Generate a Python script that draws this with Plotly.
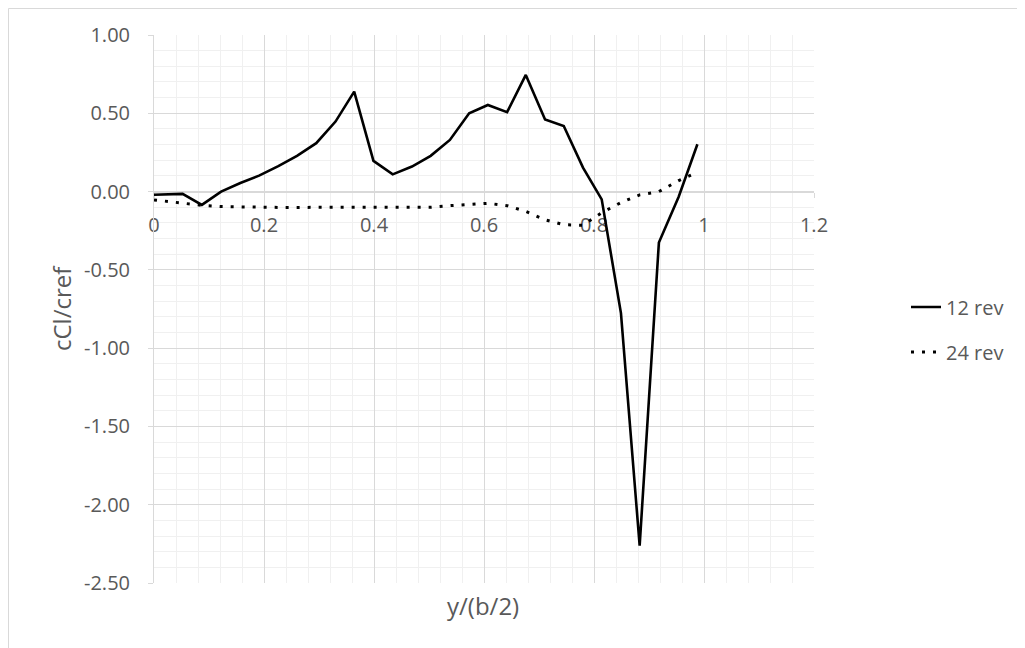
import plotly.graph_objects as go

# ---- data ----
x_12 = [0.000, 0.052, 0.087, 0.122, 0.157, 0.191, 0.226, 0.260, 0.295, 0.330,
        0.364, 0.399, 0.434, 0.469, 0.503, 0.538, 0.573, 0.607, 0.642, 0.676,
        0.711, 0.745, 0.780, 0.814, 0.849, 0.883, 0.918, 0.954, 0.988]
y_12 = [-0.020, -0.015, -0.085, 0.000, 0.055, 0.102, 0.162, 0.228, 0.309, 0.447,
        0.638, 0.196, 0.110, 0.160, 0.228, 0.330, 0.500, 0.553, 0.507, 0.745,
        0.460, 0.419, 0.153, -0.050, -0.776, -2.261, -0.325, -0.033, 0.302]

x_24 = [0.000, 0.052, 0.087, 0.122, 0.157, 0.191, 0.226, 0.260, 0.295, 0.330,
        0.364, 0.399, 0.434, 0.469, 0.503, 0.538, 0.573, 0.607, 0.642, 0.676,
        0.711, 0.745, 0.780, 0.814, 0.849, 0.883, 0.918, 0.954, 0.978]
y_24 = [-0.053, -0.074, -0.088, -0.096, -0.099, -0.100, -0.101, -0.101, -0.101, -0.101,
        -0.101, -0.101, -0.101, -0.100, -0.100, -0.090, -0.082, -0.075, -0.090, -0.127,
        -0.180, -0.212, -0.215, -0.135, -0.070, -0.021, 0.000, 0.070, 0.108]

series_names = ["12 rev", "24 rev"]
x_ticks = [0, 0.2, 0.4, 0.6, 0.8, 1.0, 1.2]
y_ticks = [1.0, 0.5, 0.0, -0.5, -1.0, -1.5, -2.0, -2.5]
x_title = "y/(b/2)"
y_title = "cCl/cref"

FONT = "Open Sans"
TXT = "#595959"
MAJOR = "#d9d9d9"
MINOR = "#f0f0f0"
TICK_SIZE = 20
TITLE_SIZE = 24

# page body has an 8px margin, so the figure starts at (8, 8) in the screenshot
OFF = 8
W, H = 1025 - OFF, 648 - OFF
L, R, T, B = 146, 211, 27, 65
PW, PH = W - L - R, H - T - B

def px_x(p):
    """screenshot x pixel -> paper fraction"""
    return (p - OFF - L) / PW

def px_y(p):
    """screenshot y pixel -> paper fraction"""
    return (H - B - (p - OFF)) / PH

fig = go.Figure()
fig.add_trace(go.Scatter(x=x_12, y=y_12, mode="lines", name=series_names[0],
                         legendgroup="a",
                         line=dict(color="black", width=2.6)))
fig.add_trace(go.Scatter(x=x_24, y=y_24, mode="lines", name=series_names[1],
                         legendgroup="b",
                         line=dict(color="black", width=3, dash="3px,8px")))

y_min, y_max = -2.5, 1.0
fig.update_layout(
    width=W, height=H,
    margin=dict(l=L, r=R, t=T, b=B),
    paper_bgcolor="white", plot_bgcolor="white",
    font=dict(family=FONT, size=TICK_SIZE, color=TXT),
    xaxis=dict(range=[0, 1.2], tickvals=x_ticks, ticktext=[f"{v:g}" for v in x_ticks],
               showgrid=True, gridcolor=MAJOR, gridwidth=1,
               minor=dict(dtick=0.04, showgrid=True, gridcolor=MINOR, gridwidth=1, ticks=""),
               zeroline=False, showline=True, linecolor=MAJOR, linewidth=1,
               ticks="outside", ticklen=5, tickcolor=MAJOR,
               anchor="free", position=(0 - y_min) / (y_max - y_min),
               layer="below traces", ticklabelstandoff=10,
               tickfont=dict(family=FONT, size=TICK_SIZE, color=TXT)),
    yaxis=dict(range=[y_min, y_max], tickvals=y_ticks,
               ticktext=[f"{v:.2f}" for v in y_ticks],
               showgrid=True, gridcolor=MAJOR, gridwidth=1,
               minor=dict(dtick=0.1, showgrid=True, gridcolor=MINOR, gridwidth=1, ticks=""),
               zeroline=False, showline=True, linecolor=MAJOR, linewidth=1,
               ticks="outside", ticklen=5, tickcolor=MAJOR,
               ticklabelstandoff=14,
               tickfont=dict(family=FONT, size=TICK_SIZE, color=TXT)),
    legend=dict(x=px_x(906), xanchor="left", y=px_y(329.5), yanchor="middle",
                traceorder="grouped", tracegroupgap=16,
                font=dict(family=FONT, size=TICK_SIZE, color=TXT),
                bgcolor="rgba(0,0,0,0)"),
    showlegend=True,
    annotations=[
        dict(text=x_title, xref="paper", yref="paper", x=px_x(482.5), y=px_y(605),
             xanchor="center", yanchor="middle",
             showarrow=False, font=dict(family=FONT, size=TITLE_SIZE, color=TXT)),
        dict(text=y_title, xref="paper", yref="paper", x=px_x(61.5), y=px_y(308.5),
             xanchor="center", yanchor="middle",
             textangle=-90, showarrow=False, font=dict(family=FONT, size=TITLE_SIZE, color=TXT)),
    ],
    shapes=[
        dict(type="rect", xref="paper", yref="paper",
             x0=px_x(8.5), x1=px_x(1060), y0=px_y(700), y1=px_y(8.5),
             line=dict(color=MAJOR, width=1), fillcolor="rgba(0,0,0,0)", layer="below"),
    ],
)

fig.write_html("out.html")
